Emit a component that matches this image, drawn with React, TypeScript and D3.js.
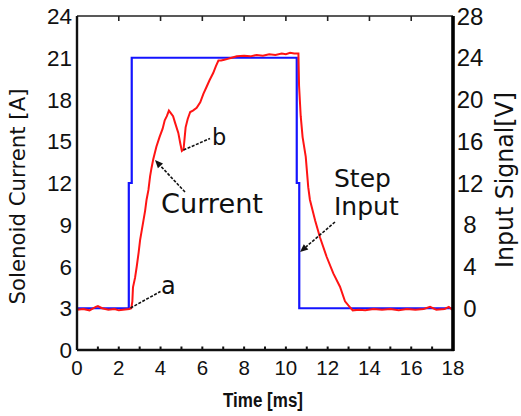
import React from "react";
import * as d3 from "d3";

// ---- data ----
const stepTime = [0, 2.48, 2.48, 2.62, 2.62, 10.52, 10.52, 10.64, 10.64, 18];
const stepVolt = [0, 0, 12, 12, 24, 24, 12, 12, 0, 0];

const curTime = [
  0, 0.3, 0.6, 0.9, 1.0, 1.2, 1.5, 1.8, 2.0, 2.2, 2.5, 2.6,
  2.65, 2.68, 2.78, 2.86, 2.95, 3.02, 3.1, 3.18, 3.26, 3.33, 3.42, 3.5, 3.57, 3.65,
  3.8, 3.95, 4.1, 4.2, 4.3, 4.4, 4.5, 4.6, 4.7, 4.85, 4.95, 5.02, 5.1, 5.15, 5.2,
  5.3, 5.42, 5.55, 5.73, 5.9, 6.05, 6.2, 6.35, 6.52, 6.65, 6.77, 6.9, 7.05, 7.17,
  7.4, 7.65, 8.0, 8.3, 8.6, 8.9, 9.2, 9.5, 9.8, 10.0, 10.2, 10.4, 10.6,
  10.63, 10.71, 10.8, 10.95, 11.07, 11.15, 11.4, 11.63, 11.95, 12.27, 12.59,
  12.83, 12.99, 13.2, 13.5, 13.8, 14.2, 14.6, 15.0, 15.4, 15.8, 16.2, 16.6,
  16.9, 17.2, 17.6, 17.8, 18.0,
];
const curAmp = [
  2.9, 2.95, 2.85, 3.1, 3.15, 3.0, 2.9, 2.95, 2.85, 2.9, 2.95, 3.0,
  3.5, 4.5, 5.2, 6.0, 7.0, 7.9, 8.6, 9.3, 10.0, 10.8, 11.5, 12.5, 13.1, 13.7,
  14.6, 15.3, 15.9, 16.5, 16.8, 17.2, 17.0, 16.8, 16.3, 15.6, 14.8, 14.3, 14.4, 15.2, 16.0,
  16.6, 17.1, 17.2, 17.4, 17.8, 18.4, 18.9, 19.4, 19.9, 20.4, 20.8, 20.8, 20.85, 20.9,
  21.0, 21.1, 21.15, 21.1, 21.2, 21.15, 21.25, 21.2, 21.3, 21.25, 21.35, 21.3, 21.3,
  19.0, 16.8, 15.3, 13.9, 11.7, 10.8, 9.3, 8.1, 6.7, 5.5, 4.55,
  3.5, 3.2, 2.85, 2.9, 2.85, 2.95, 2.9, 2.95, 2.85, 2.95, 2.9, 2.95,
  3.1, 2.9, 2.95, 3.1, 2.85,
];

const leftTicks = [0, 3, 6, 9, 12, 15, 18, 21, 24];
const rightTicks = [0, 4, 8, 12, 16, 20, 24, 28];
const xLabelTicks = [0, 2, 4, 6, 8, 10, 12, 14, 16, 18];
const xMinorTicks = [1, 2, 3, 4, 5, 6, 7, 8, 9, 10, 11, 12, 13, 14, 15, 16, 17];
const xTopTicks = [2, 4, 6, 8, 10, 12, 14, 16];

const x = d3.scaleLinear().domain([0, 18]).range([77, 453]);
const yL = d3.scaleLinear().domain([0, 24]).range([350, 16]);
const yR = d3.scaleLinear().domain([-4, 28]).range([350, 16]);

function Arrow({ x1, y1, x2, y2 }: { x1: number; y1: number; x2: number; y2: number }) {
  const ang = Math.atan2(y2 - y1, x2 - x1);
  const L = 8, W = 3.5;
  const bx = x2 - L * Math.cos(ang), by = y2 - L * Math.sin(ang);
  const p1 = [bx + W * Math.sin(ang), by - W * Math.cos(ang)];
  const p2 = [bx - W * Math.sin(ang), by + W * Math.cos(ang)];
  return (
    <g>
      <line x1={x1} y1={y1} x2={bx} y2={by} stroke="#111" strokeWidth={1.6} strokeDasharray="3,1.5" />
      <path d={`M${x2},${y2}L${p1[0]},${p1[1]}L${p2[0]},${p2[1]}Z`} fill="#111" />
    </g>
  );
}

export default function App() {
  const stepLine = d3
    .line<number>()
    .x((_, i) => x(stepTime[i]))
    .y((_, i) => yR(stepVolt[i]));
  const curLine = d3
    .line<number>()
    .x((_, i) => x(curTime[i]))
    .y((_, i) => yL(curAmp[i]));

  const tickFont = "'Liberation Sans', Arial, sans-serif";
  const annFont = "'DejaVu Sans', Verdana, sans-serif";

  return (
    <svg width={521} height={416} style={{ position: "absolute", left: 0, top: 0, background: "#fff" }}>
      <rect x={0} y={0} width={521} height={416} fill="#fff" />
      <path d={stepLine(stepTime) || ""} fill="none" stroke="#1414ff" strokeWidth={2.2} />
      <path d={curLine(curTime) || ""} fill="none" stroke="#ff1414" strokeWidth={2} />

      <line x1={x(0)} y1={yL(24)} x2={x(18)} y2={yL(24)} stroke="#222" strokeWidth={1.6} />
      <line x1={x(0)} y1={yL(0)} x2={x(18) + 1} y2={yL(0)} stroke="#111" strokeWidth={2.4} />
      <line x1={x(0)} y1={yL(24)} x2={x(0)} y2={yL(0)} stroke="#111" strokeWidth={2.4} />
      <line x1={x(18)} y1={yL(24)} x2={x(18)} y2={yL(0) + 1} stroke="#000" strokeWidth={3.6} />

      {xTopTicks.map((t) => (
        <line key={"tt" + t} x1={x(t)} x2={x(t)} y1={yL(24)} y2={yL(24) + 5} stroke="#222" strokeWidth={1.6} />
      ))}
      {xMinorTicks.map((t) => (
        <line key={"bt" + t} x1={x(t)} x2={x(t)} y1={yL(0)} y2={yL(0) - 3.5} stroke="#111" strokeWidth={2} />
      ))}

      {xLabelTicks.map((t) => (
        <text key={"xl" + t} x={x(t)} y={375} textAnchor="middle" fontFamily={tickFont} fontSize={20.5} fill="#111">
          {t}
        </text>
      ))}
      {leftTicks.map((v) => (
        <text key={"yl" + v} x={72} y={yL(v)} dy="0.36em" textAnchor="end" fontFamily={tickFont} fontSize={22.5} fill="#111">
          {v}
        </text>
      ))}
      {rightTicks.map((v) => (
        <text key={"yr" + v} x={470} y={yR(v)} dy="0.36em" textAnchor="middle" fontFamily={tickFont} fontSize={24} fill="#111">
          {v}
        </text>
      ))}

      <text x={263} y={406.5} textAnchor="middle" fontFamily={tickFont} fontSize={20} fontWeight="bold" fill="#111"
        textLength={80} lengthAdjust="spacingAndGlyphs">
        Time [ms]
      </text>
      <text transform="translate(25,196.5) rotate(-90)" textAnchor="middle" fontFamily={annFont} fontSize={21} fill="#111"
        textLength={216} lengthAdjust="spacingAndGlyphs">
        Solenoid Current [A]
      </text>
      <text transform="translate(513,180) rotate(-90)" textAnchor="middle" fontFamily={annFont} fontSize={24} fill="#111"
        textLength={176} lengthAdjust="spacingAndGlyphs">
        Input Signal[V]
      </text>

      <line x1={130.5} y1={308} x2={160.5} y2={291.5} stroke="#111" strokeWidth={1.6} strokeDasharray="3,1.5" />
      <text x={161} y={293.5} fontFamily={annFont} fontSize={24} fill="#111">a</text>

      <line x1={183.5} y1={150} x2={210} y2={138.5} stroke="#111" strokeWidth={1.6} strokeDasharray="3,1.5" />
      <text x={212} y={145} fontFamily={annFont} fontSize={22.5} fill="#111">b</text>

      <Arrow x1={185} y1={192} x2={155} y2={160} />
      <text x={161} y={213} fontFamily={annFont} fontSize={26} fill="#111" textLength={102} lengthAdjust="spacingAndGlyphs">
        Current
      </text>

      <Arrow x1={335} y1={222} x2={300} y2={252} />
      <text x={334} y={186.5} fontFamily={annFont} fontSize={25} fill="#111">Step</text>
      <text x={334} y={215} fontFamily={annFont} fontSize={25} fill="#111">Input</text>
    </svg>
  );
}
